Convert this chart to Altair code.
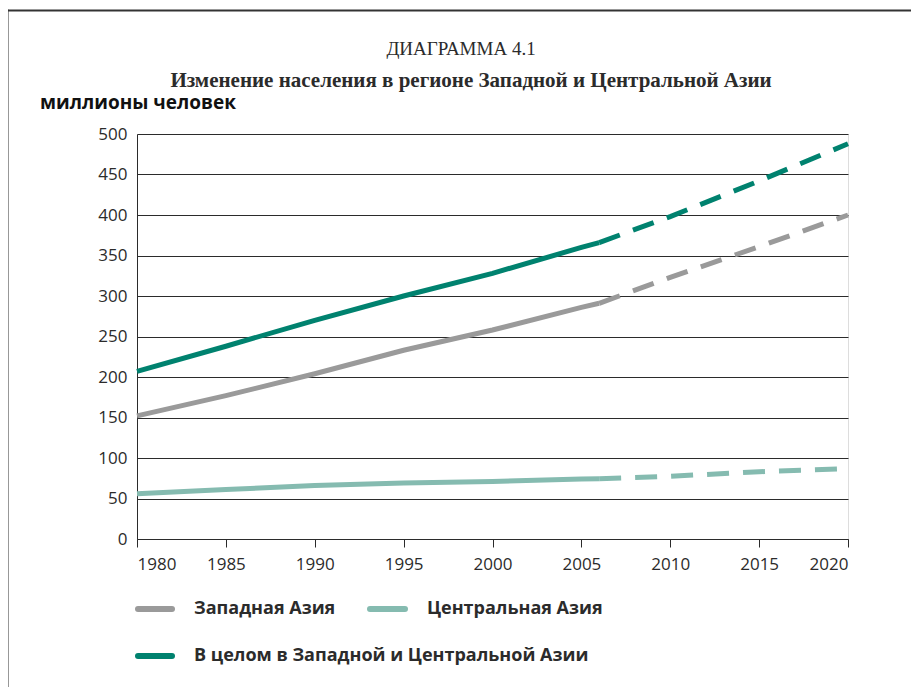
import altair as alt
import pandas as pd

# ---- data ----
years = [1980, 1985, 1990, 1995, 2000, 2005, 2006, 2010, 2015, 2020]
west_asia = [152, 177, 204, 233, 258, 286, 291, 323, 361, 400]
central_asia = [56, 61, 66, 69, 71, 74, 74.5, 77.5, 83, 87]
total_asia = [207, 238, 270, 300, 328, 360, 366, 398, 442, 488]
projection_start = 2006

series_names = ["Западная Азия", "Центральная Азия", "В целом в Западной и Центральной Азии"]
series_colors = ["#9a9a9a", "#85bbb0", "#00826f"]

title_text = "ДИАГРАММА 4.1"
subtitle_text = "Изменение населения в регионе Западной и Центральной Азии"
unit_text = "миллионы человек"

x_ticks = [1980, 1985, 1990, 1995, 2000, 2005, 2010, 2015, 2020]
y_ticks = [0, 50, 100, 150, 200, 250, 300, 350, 400, 450, 500]

rows = []
for name, vals in zip(series_names, [west_asia, central_asia, total_asia]):
    for yr, v in zip(years, vals):
        rows.append({"series": name, "year": yr, "value": v})
df = pd.DataFrame(rows)

SANS = "Open Sans"
SERIF = "Liberation Serif"
INK = "#2b2b2b"

color_scale = alt.Scale(domain=series_names, range=series_colors)

x_enc = alt.X(
    "year:Q",
    scale=alt.Scale(domain=[1980, 2020], nice=False, zero=False),
    axis=alt.Axis(
        title=None, values=x_ticks, format="d", grid=False,
        tickSize=8, tickColor=INK, domainColor=INK,
        labelFont=SANS, labelFontSize=17, labelColor=INK, labelPadding=9,
    ),
)
y_enc = alt.Y(
    "value:Q",
    scale=alt.Scale(domain=[0, 500], nice=False),
    axis=alt.Axis(
        title=None, values=y_ticks, grid=True, gridColor=INK, gridWidth=1,
        ticks=False, domainColor=INK,
        labelFont=SANS, labelFontSize=17, labelColor=INK, labelPadding=10,
    ),
)

base = alt.Chart(df)

solid = base.transform_filter(alt.datum.year <= projection_start).mark_line(
    strokeWidth=5, strokeCap="butt"
).encode(
    x=x_enc, y=y_enc,
    color=alt.Color("series:N", scale=color_scale, legend=None),
    order="year:Q",
)

dashed = base.transform_filter(alt.datum.year >= projection_start).mark_line(
    strokeWidth=5, strokeDash=[22, 14], strokeCap="butt"
).encode(
    x=x_enc, y=y_enc,
    color=alt.Color("series:N", scale=color_scale, legend=None),
    order="year:Q",
)

one = pd.DataFrame({"t": [0]})

frame_left = alt.Chart(one).mark_rule(color="#333333", strokeWidth=2).encode(
    x=alt.value(-129.5), y=alt.value(-124.5), y2=alt.value(562)
)
frame_top = alt.Chart(one).mark_rule(color="#333333", strokeWidth=2).encode(
    x=alt.value(-130.5), x2=alt.value(790), y=alt.value(-123.5)
)

title = alt.Chart(pd.DataFrame({"t": [title_text]})).mark_text(
    font=SERIF, fontSize=19, color=INK, align="center", baseline="alphabetic"
).encode(text="t:N", x=alt.value(324), y=alt.value(-79))

subtitle = alt.Chart(pd.DataFrame({"t": [subtitle_text]})).mark_text(
    font=SERIF, fontSize=21, fontWeight="bold", color=INK, align="center", baseline="alphabetic"
).encode(text="t:N", x=alt.value(334), y=alt.value(-47))

unit = alt.Chart(pd.DataFrame({"t": [unit_text]})).mark_text(
    font=SANS, fontSize=19, fontWeight="bold", color="#111111", align="left", baseline="alphabetic"
).encode(text="t:N", x=alt.value(-97), y=alt.value(-25))

# ---- legend (two entries on the first row, one on the second) ----
legend_slots = [
    # (symbol x start, symbol x end, label x, row y) in plot pixels
    (-2, 38, 57, 475),
    (230, 271, 290, 475),
    (-2, 38, 57, 522),
]
legend_layers = []
for name, col, (sx0, sx1, lx, ry) in zip(series_names, series_colors, legend_slots):
    item = pd.DataFrame({"label": [name]})
    legend_layers.append(
        alt.Chart(item).mark_rule(color=col, strokeWidth=6, strokeCap="round").encode(
            x=alt.value(sx0 + 3), x2=alt.value(sx1 - 3), y=alt.value(ry)
        )
    )
    legend_layers.append(
        alt.Chart(item).mark_text(
            font=SANS, fontSize=18, fontWeight="bold", color=INK, align="left", baseline="middle"
        ).encode(text="label:N", x=alt.value(lx), y=alt.value(ry))
    )

chart = alt.layer(
    solid, dashed, frame_left, frame_top, title, subtitle, unit, *legend_layers
).properties(
    width=711,
    height=405,
    padding={"left": 129, "top": 126, "right": 63, "bottom": 148},
    autosize=alt.AutoSizeParams(type="none"),
).configure_view(stroke=INK, strokeWidth=1).configure(background="white")

chart.save("out.html", embed_options={"renderer": "svg", "actions": False})
